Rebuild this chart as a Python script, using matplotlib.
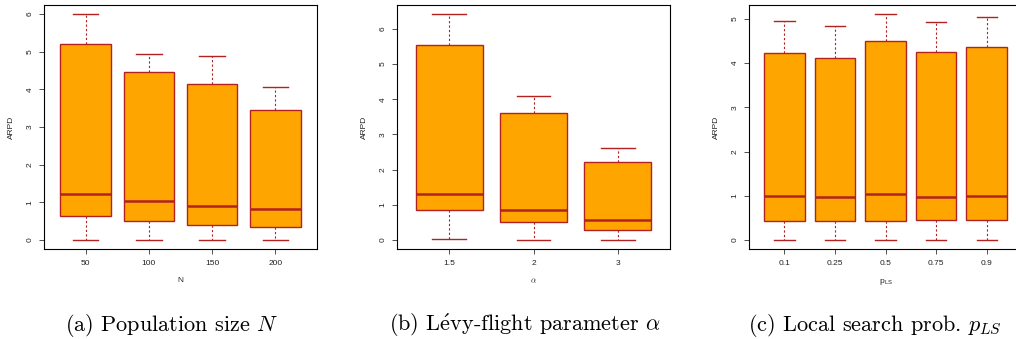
import matplotlib
matplotlib.use('Agg')
import matplotlib.pyplot as plt

plt.rcParams['font.family'] = ['Liberation Sans', 'DejaVu Sans']
plt.rcParams['mathtext.fontset'] = 'cm'

# box statistics: min, q1, median, q3, max
n_labels = ['50', '100', '150', '200']
n_min = [0.0, 0.0, 0.0, 0.0]
n_q1 = [0.64, 0.50, 0.41, 0.34]
n_med = [1.21, 1.03, 0.89, 0.81]
n_q3 = [5.20, 4.47, 4.15, 3.46]
n_max = [6.00, 4.93, 4.88, 4.07]

a_labels = ['1.5', '2', '3']
a_min = [0.02, 0.0, 0.0]
a_q1 = [0.86, 0.50, 0.27]
a_med = [1.31, 0.86, 0.56]
a_q3 = [5.54, 3.61, 2.21]
a_max = [6.42, 4.09, 2.60]

p_labels = ['0.1', '0.25', '0.5', '0.75', '0.9']
p_min = [0.0, 0.0, 0.0, 0.0, 0.0]
p_q1 = [0.44, 0.44, 0.43, 0.46, 0.46]
p_med = [1.00, 0.97, 1.03, 0.98, 1.00]
p_q3 = [4.24, 4.11, 4.51, 4.25, 4.37]
p_max = [4.95, 4.85, 5.11, 4.92, 5.05]

captions = [r'(a) Population size $N$',
            r'(b) L$\mathrm{\acute{e}}$vy-flight parameter $\alpha$',
            r'(c) Local search prob. $p_{LS}$']

FILL = '#FFA500'
EDGE = '#B22222'


def rbox(ax, labels, mins, q1, med, q3, maxs, xlab):
    stats = []
    for i in range(len(labels)):
        stats.append(dict(whislo=mins[i], q1=q1[i], med=med[i], q3=q3[i],
                          whishi=maxs[i], fliers=[]))
    pos = list(range(1, len(labels) + 1))
    ax.bxp(stats, positions=pos, widths=0.8, patch_artist=True,
           showfliers=False,
           boxprops=dict(facecolor=FILL, edgecolor=EDGE, linewidth=1.0),
           medianprops=dict(color=EDGE, linewidth=1.8),
           whiskerprops=dict(color=EDGE, linewidth=0.8, linestyle=(0, (2, 2))),
           capprops=dict(color=EDGE, linewidth=1.0),
           capwidths=0.4)
    k = len(labels)
    ax.set_xlim(0.5 - 0.04 * k, k + 0.5 + 0.04 * k)
    lo = min(mins)
    hi = max(maxs)
    r = hi - lo
    ax.set_ylim(lo - 0.04 * r, hi + 0.04 * r)
    ax.set_xticks(pos)
    ax.set_xticklabels(labels)
    top = int(hi)
    ax.set_yticks(range(0, top + 1))
    ax.tick_params(axis='both', labelsize=6, length=3.5, width=0.6,
                   color='#333333', labelcolor='#222222')
    ax.tick_params(axis='x', pad=4.5)
    ax.tick_params(axis='y', pad=4)
    for t in ax.get_yticklabels():
        t.set_rotation(90)
        t.set_va('center')
    ax.set_ylabel('ARPD', fontsize=6, labelpad=8, color='#222222')
    ax.set_xlabel(xlab, fontsize=6, labelpad=7, color='#222222')
    for s in ax.spines.values():
        s.set_linewidth(0.8)


fig = plt.figure(figsize=(10.16, 3.39), dpi=100)
w = 273 / 1016
h = 244 / 339
b = 90 / 339
ax1 = fig.add_axes([44 / 1016, b, w, h])
ax2 = fig.add_axes([397 / 1016, b, w, h])
ax3 = fig.add_axes([749 / 1016, b, w, h])

rbox(ax1, n_labels, n_min, n_q1, n_med, n_q3, n_max, 'N')
rbox(ax2, a_labels, a_min, a_q1, a_med, a_q3, a_max, r'$\alpha$')
rbox(ax3, p_labels, p_min, p_q1, p_med, p_q3, p_max, r'p$_{\mathregular{LS}}$')

cx = [172, 525, 875]
for c, t in zip(cx, captions):
    fig.text(c / 1016, 8 / 339, t, ha='center', va='baseline', fontsize=16,
             family=['cmr10', 'DejaVu Serif'])

fig.savefig('out.png', dpi=100)
